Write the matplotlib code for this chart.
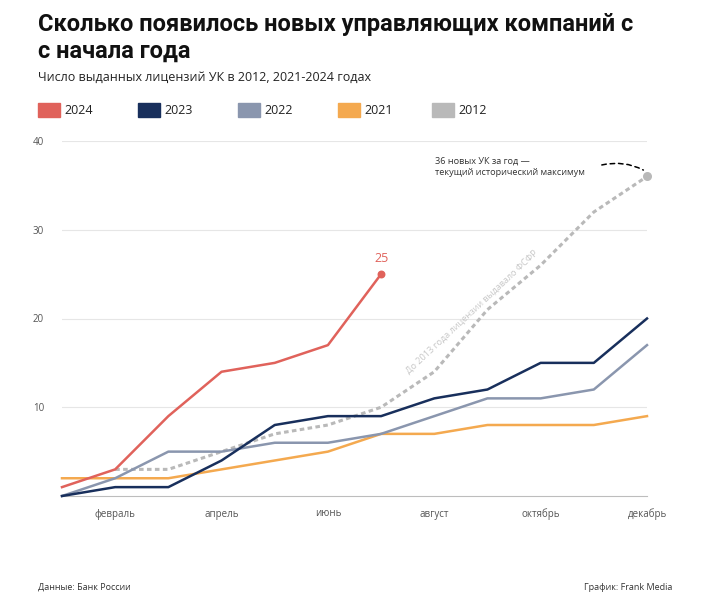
import matplotlib.pyplot as plt
from matplotlib.patches import Rectangle

plt.rcParams['font.family'] = ['Open Sans', 'DejaVu Sans']

months = ['январь', 'февраль', 'март', 'апрель', 'май', 'июнь',
          'июль', 'август', 'сентябрь', 'октябрь', 'ноябрь', 'декабрь']
tick_labels = ['февраль', 'апрель', 'июнь', 'август', 'октябрь', 'декабрь']

y2024 = [1, 3, 9, 14, 15, 17, 25]
y2023 = [0, 1, 1, 4, 8, 9, 9, 11, 12, 15, 15, 20]
y2022 = [0, 2, 5, 5, 6, 6, 7, 9, 11, 11, 12, 17]
y2021 = [2, 2, 2, 3, 4, 5, 7, 7, 8, 8, 8, 9]
y2012 = [3, 3, 5, 7, 8, 10, 14, 21, 26, 32, 36]  # с февраля

c2024 = '#e0625b'
c2023 = '#182f5c'
c2022 = '#8a96ae'
c2021 = '#f4a94f'
c2012 = '#b9b9b9'

W, H = 722, 593
fig = plt.figure(figsize=(W / 100, H / 100), dpi=100)
ax = fig.add_axes([62 / W, (H - 496) / H, (647 - 62) / W, (496 - 141) / H])

x_all = list(range(12))

ax.plot(x_all[1:], y2012, color=c2012, lw=2.2, ls=(0, (1.5, 1.1)), clip_on=False, zorder=2)
ax.plot(x_all, y2021, color=c2021, lw=1.8, clip_on=False, zorder=3)
ax.plot(x_all, y2022, color=c2022, lw=1.8, clip_on=False, zorder=4)
ax.plot(x_all, y2023, color=c2023, lw=1.8, clip_on=False, zorder=5)
ax.plot(x_all[:len(y2024)], y2024, color=c2024, lw=1.8, clip_on=False, zorder=6)

# конечные точки
ax.scatter([len(y2024) - 1], [y2024[-1]], s=22, color=c2024, zorder=7, clip_on=False)
ax.scatter([11], [y2012[-1]], s=30, color=c2012, zorder=7, clip_on=False)
ax.text(len(y2024) - 1, y2024[-1] + 1.0, str(y2024[-1]), color=c2024,
        ha='center', va='bottom', fontsize=9)

ax.set_xlim(0, 11)
ax.set_ylim(0, 40)
ax.set_yticks([10, 20, 30, 40])
ax.set_xticks([months.index(m) for m in tick_labels])
ax.set_xticklabels(tick_labels)
ax.grid(axis='y', color='#e6e6e6', lw=0.8)
ax.set_axisbelow(True)
for s in ['top', 'right', 'left']:
    ax.spines[s].set_visible(False)
ax.spines['bottom'].set_color('#bdbdbd')
ax.tick_params(axis='both', length=0, labelsize=7, colors='#555555')
ax.tick_params(axis='y', pad=13)
ax.tick_params(axis='x', pad=9)

# аннотации
ax.text(0.638, 0.957, '36 новых УК за год —\nтекущий исторический максимум',
        transform=ax.transAxes, fontsize=6.6, color='#333333',
        ha='left', va='top', linespacing=1.35)
ax.annotate('', xy=(11, 36.5), xytext=(10.15, 37.3),
            arrowprops=dict(arrowstyle='-', color='black', lw=1.1, ls=(0, (3, 2.5)),
                            connectionstyle='arc3,rad=-0.2', shrinkA=0, shrinkB=3),
            annotation_clip=False)
ax.text(7.71, 20.8, 'До 2013 года лицензии выдавало ФСФР', color='#c8c8c8',
        fontsize=6.6, rotation=43, ha='center', va='center')

# заголовок
fig.text(38 / W, 1 - 38 / H, 'Сколько появилось новых управляющих компаний с\nс начала года',
         fontsize=17, fontweight='bold', family=['Roboto', 'DejaVu Sans'],
         ha='left', va='center', linespacing=1.2, color='#111111')
fig.text(38 / W, 1 - 77 / H, 'Число выданных лицензий УК в 2012, 2021-2024 годах',
         fontsize=9, ha='left', va='center', color='#222222')

# легенда
legend_items = [('2024', c2024, 38), ('2023', c2023, 138), ('2022', c2022, 238),
                ('2021', c2021, 338), ('2012', c2012, 432)]
for label, col, x0 in legend_items:
    fig.patches.append(Rectangle((x0 / W, 1 - 117 / H), 22 / W, 14 / H,
                                 transform=fig.transFigure, color=col))
    fig.text((x0 + 26) / W, 1 - 110 / H, label, fontsize=9, ha='left', va='center',
             color='#222222')

fig.text(38 / W, 1 - 587 / H, 'Данные: Банк России', fontsize=6.5, ha='left',
         va='center', color='#333333')
fig.text(672 / W, 1 - 587 / H, 'График: Frank Media', fontsize=6.5, ha='right',
         va='center', color='#333333')

fig.savefig('out.png', dpi=100, facecolor='white')
